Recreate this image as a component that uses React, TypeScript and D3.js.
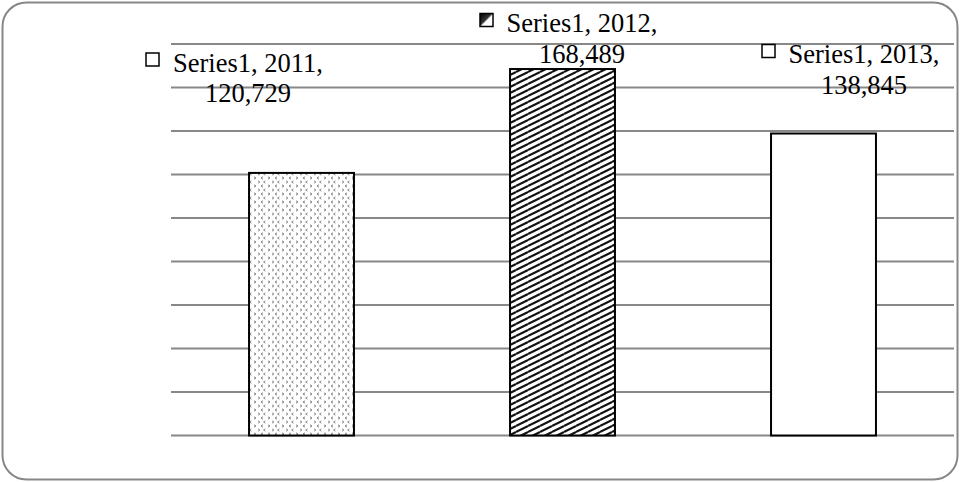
import React from "react";
import * as d3 from "d3";

const categories = ["2011", "2012", "2013"];
const values = [120729, 168489, 138845];
const seriesName = "Series1";
const yMax = 180000;
const yStep = 20000;

// layout of the manually placed data labels (center x, first-line baseline)
const labelLayout = [
  { cx: 248, y: 71.5 },
  { cx: 582, y: 32 },
  { cx: 864, y: 63 },
];
const fills = ["url(#dots)", "url(#hatch)", "#ffffff"];

const W = 960;
const H = 482;

export default function App() {
  const x = d3
    .scaleBand<string>()
    .domain(categories)
    .range([171, 954])
    .paddingInner(0.598)
    .paddingOuter(0.299);
  const y = d3.scaleLinear().domain([0, yMax]).range([435.5, 44]);
  const ticks = d3.range(0, yMax + 1, yStep);
  const fmt = d3.format(",");

  return (
    <svg
      width={W}
      height={H}
      style={{ position: "absolute", left: 0, top: 0 }}
      fontFamily="'Liberation Serif', 'Times New Roman', serif"
    >
      <defs>
        <pattern id="hatch" width={12} height={6} patternUnits="userSpaceOnUse">
          <rect width={12} height={6} fill="#fff" />
          {[-6, 0, 6].map((o) => (
            <line key={o} x1={0} y1={6 + o} x2={12} y2={0 + o} stroke="#111" strokeWidth={2.1} />
          ))}
        </pattern>
        <pattern id="dots" width={14} height={8} patternUnits="userSpaceOnUse">
          <rect width={14} height={8} fill="#fff" />
          <path d="M2,0.8 L4,2 L2,3.2" fill="none" stroke="#808080" strokeWidth={1} />
          <path d="M11,0.8 L9,2 L11,3.2" fill="none" stroke="#808080" strokeWidth={1} />
          <path d="M6,4.8 L8,6 L6,7.2" fill="none" stroke="#909090" strokeWidth={1} />
          <path d="M13.5,4.8 L11.5,6 L13.5,7.2" fill="none" stroke="#909090" strokeWidth={1} />
        </pattern>
        <linearGradient id="keyGrad" x1="0" y1="0" x2="1" y2="1">
          <stop offset="0" stopColor="#000" />
          <stop offset="0.45" stopColor="#333" />
          <stop offset="0.55" stopColor="#fff" />
          <stop offset="1" stopColor="#fff" />
        </linearGradient>
      </defs>
      <rect x={0} y={0} width={W} height={H} fill="#fff" />
      <rect
        x={2.5}
        y={2.5}
        width={955}
        height={477}
        rx={24}
        ry={24}
        fill="#fff"
        stroke="#878787"
        strokeWidth={2}
      />
      {ticks.map((t) => (
        <line
          key={t}
          x1={171}
          x2={954}
          y1={y(t)}
          y2={y(t)}
          stroke="#888888"
          strokeWidth={1.8}
        />
      ))}
      {categories.map((c, i) => (
        <rect
          key={c}
          x={x(c)}
          y={y(values[i])}
          width={x.bandwidth()}
          height={y(0) - y(values[i])}
          fill={fills[i]}
          stroke="#000"
          strokeWidth={2}
        />
      ))}
      {categories.map((c, i) => {
        const L = labelLayout[i];
        const kx = L.cx - 102;
        const ky = L.y - 18.5;
        return (
          <g key={"l" + c}>
            <rect
              x={kx}
              y={ky}
              width={13}
              height={13}
              fill={i === 1 ? "url(#keyGrad)" : "#fff"}
              stroke="#000"
              strokeWidth={1.5}
            />
            <text x={L.cx} y={L.y} textAnchor="middle" fontSize={26.5} fill="#000">
              {`${seriesName}, ${c},`}
            </text>
            <text x={L.cx} y={L.y + 30.5} textAnchor="middle" fontSize={26.5} fill="#000">
              {fmt(values[i])}
            </text>
          </g>
        );
      })}
    </svg>
  );
}
